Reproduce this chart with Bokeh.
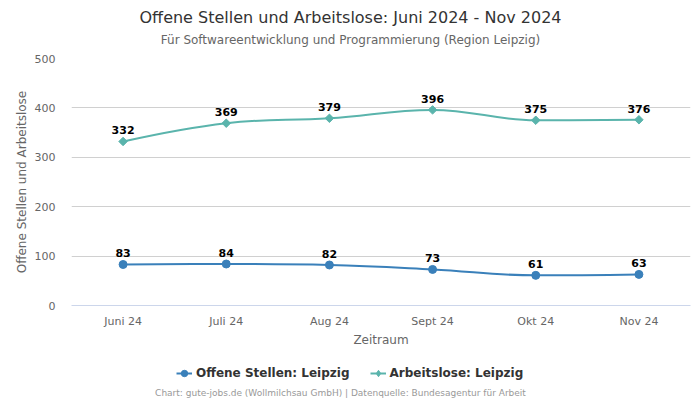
import math
from bokeh.plotting import figure
from bokeh.layouts import column
from bokeh.models import (ColumnDataSource, Legend, LegendItem, Label,
                          FixedTicker, Range1d)
from bokeh.embed import file_html
from bokeh.resources import INLINE
from bokeh.core.properties import value

months = ["Juni 24", "Juli 24", "Aug 24", "Sept 24", "Okt 24", "Nov 24"]
offene = [83, 84, 82, 73, 61, 63]
arbeitslose = [332, 369, 379, 396, 375, 376]
y_ticks = [0, 100, 200, 300, 400, 500]

title_text = "Offene Stellen und Arbeitslose: Juni 2024 - Nov 2024"
subtitle_text = "Für Softwareentwicklung und Programmierung (Region Leipzig)"
footer_text = "Chart: gute-jobs.de (Wollmilchsau GmbH) | Datenquelle: Bundesagentur für Arbeit"
name_offene = "Offene Stellen: Leipzig"
name_arbeitslose = "Arbeitslose: Leipzig"

BLUE = "#3a80ba"
TEAL = "#5ab4ac"
FONT = "DejaVu Sans"

xs = [i + 0.5 for i in range(len(months))]


def spline_segments(x, y, smoothing=1.5):
    """Highcharts-style spline control points -> bezier segments."""
    n = len(x)
    left = [None] * n
    right = [None] * n
    for i in range(n):
        if i == 0 or i == n - 1:
            left[i] = (x[i], y[i])
            right[i] = (x[i], y[i])
            continue
        lx, ly = x[i - 1], y[i - 1]
        nx, ny = x[i + 1], y[i + 1]
        px, py = x[i], y[i]
        d = smoothing + 1
        lcx = (smoothing * px + lx) / d
        lcy = (smoothing * py + ly) / d
        rcx = (smoothing * px + nx) / d
        rcy = (smoothing * py + ny) / d
        corr = ((rcy - lcy) * (rcx - px)) / (rcx - lcx) + py - rcy
        lcy += corr
        rcy += corr
        if lcy > ly and lcy > py:
            lcy = max(ly, py)
            rcy = 2 * py - lcy
        elif lcy < ly and lcy < py:
            lcy = min(ly, py)
            rcy = 2 * py - lcy
        if rcy > ny and rcy > py:
            rcy = max(ny, py)
            lcy = 2 * py - rcy
        elif rcy < ny and rcy < py:
            rcy = min(ny, py)
            lcy = 2 * py - rcy
        left[i] = (lcx, lcy)
        right[i] = (rcx, rcy)
    seg = dict(x0=[], y0=[], x1=[], y1=[], cx0=[], cy0=[], cx1=[], cy1=[])
    for i in range(1, n):
        seg["x0"].append(x[i - 1]); seg["y0"].append(y[i - 1])
        seg["x1"].append(x[i]); seg["y1"].append(y[i])
        seg["cx0"].append(right[i - 1][0]); seg["cy0"].append(right[i - 1][1])
        seg["cx1"].append(left[i][0]); seg["cy1"].append(left[i][1])
    return ColumnDataSource(seg)


def strip(height):
    f = figure(frame_width=619, frame_height=height,
               x_range=Range1d(0, 1), y_range=Range1d(0, 1),
               output_backend="svg", toolbar_location=None, title=None,
               x_axis_location=None, y_axis_location=None,
               min_border_left=71, min_border_right=10,
               min_border_top=0, min_border_bottom=0)
    f.outline_line_color = None
    f.xgrid.grid_line_color = None
    f.ygrid.grid_line_color = None
    f.border_fill_color = "white"
    f.background_fill_color = "white"
    return f


FRAME_LEFT = 71


def add_label(fig, txt, cx, cy_from_bottom, size, color, style="normal"):
    fig.add_layout(Label(x=cx - FRAME_LEFT, y=cy_from_bottom, x_units="screen",
                         y_units="screen", text=txt, text_align="center",
                         text_baseline="middle", text_font=FONT,
                         text_font_size=size, text_color=color,
                         text_font_style=style))


# ---- top strip: title + subtitle
top = strip(50)
add_label(top, title_text, 350, 50 - 17, "16px", "#333333")
add_label(top, subtitle_text, 350, 50 - 39, "12px", "#666666")

# ---- main chart
p = figure(frame_width=619, frame_height=247,
           x_range=Range1d(0, 6), y_range=Range1d(0, 500),
           output_backend="svg", toolbar_location=None, title=None,
           min_border_left=71, min_border_right=10, min_border_top=8,
           min_border_bottom=55)
p.outline_line_color = None
p.background_fill_color = "white"
p.border_fill_color = "white"

p.xaxis.ticker = FixedTicker(ticks=xs)
p.xaxis.major_label_overrides = {x: m for x, m in zip(xs, months)}
p.xaxis.axis_line_color = "#ccd6eb"
p.xaxis.major_tick_line_color = None
p.xaxis.minor_tick_line_color = None
p.xaxis.major_tick_out = 0
p.xaxis.major_label_standoff = 9
p.xaxis.major_label_text_font = FONT
p.xaxis.major_label_text_font_size = "11px"
p.xaxis.major_label_text_color = "#666666"
p.xaxis.axis_label = "Zeitraum"
p.xaxis.axis_label_text_font = FONT
p.xaxis.axis_label_text_font_size = "12px"
p.xaxis.axis_label_text_font_style = "normal"
p.xaxis.axis_label_text_color = "#666666"
p.xaxis.axis_label_standoff = 2

p.yaxis.ticker = FixedTicker(ticks=y_ticks)
p.yaxis.axis_line_color = None
p.yaxis.major_tick_line_color = None
p.yaxis.minor_tick_line_color = None
p.yaxis.major_tick_out = 0
p.yaxis.major_label_standoff = 16
p.yaxis.major_label_text_font = FONT
p.yaxis.major_label_text_font_size = "11px"
p.yaxis.major_label_text_color = "#666666"
p.yaxis.axis_label = "Offene Stellen und Arbeitslose"
p.yaxis.axis_label_text_font = FONT
p.yaxis.axis_label_text_font_size = "12px"
p.yaxis.axis_label_text_font_style = "normal"
p.yaxis.axis_label_text_color = "#666666"
p.yaxis.axis_label_standoff = 3

p.xgrid.grid_line_color = None
p.ygrid.ticker = FixedTicker(ticks=y_ticks[1:])
p.ygrid.grid_line_color = "#d0d0d0"
p.ygrid.grid_line_width = 1

src_a = ColumnDataSource(dict(x=xs, y=arbeitslose, lab=[str(v) for v in arbeitslose]))
src_o = ColumnDataSource(dict(x=xs, y=offene, lab=[str(v) for v in offene]))

p.bezier(x0="x0", y0="y0", x1="x1", y1="y1", cx0="cx0", cy0="cy0",
         cx1="cx1", cy1="cy1", source=spline_segments(xs, arbeitslose),
         line_color=TEAL, line_width=2)
p.bezier(x0="x0", y0="y0", x1="x1", y1="y1", cx0="cx0", cy0="cy0",
         cx1="cx1", cy1="cy1", source=spline_segments(xs, offene),
         line_color=BLUE, line_width=2)
p.scatter("x", "y", source=src_a, marker="square", size=6,
          angle=math.pi / 4, fill_color=TEAL, line_color=TEAL)
p.scatter("x", "y", source=src_o, marker="circle", size=8,
          fill_color=BLUE, line_color=BLUE)

for src in (src_a, src_o):
    p.text("x", "y", text="lab", source=src, text_align="center",
           text_baseline="bottom", y_offset=-7, text_font=value(FONT),
           text_font_size="11px", text_font_style="bold", text_color="#000000")

# ---- bottom strip: legend + source note
bot = strip(40)
# legend sample glyphs use the series' own data, which lies outside this strip's view
lsrc_o = ColumnDataSource(dict(x=xs, y=offene))
lsrc_a = ColumnDataSource(dict(x=xs, y=arbeitslose))
ql_o = bot.line("x", "y", source=lsrc_o, line_color=BLUE, line_width=2)
qs_o = bot.scatter("x", "y", source=lsrc_o, marker="circle", size=8,
                   fill_color=BLUE, line_color=BLUE)
ql_a = bot.line("x", "y", source=lsrc_a, line_color=TEAL, line_width=2)
qs_a = bot.scatter("x", "y", source=lsrc_a, marker="diamond", size=9,
                   fill_color=TEAL, line_color=TEAL)

legend = Legend(items=[LegendItem(label=name_offene, renderers=[ql_o, qs_o]),
                       LegendItem(label=name_arbeitslose, renderers=[ql_a, qs_a])],
                orientation="horizontal", location=(176 - FRAME_LEFT, 19),
                padding=0, margin=0, spacing=20, glyph_width=16, glyph_height=16,
                label_height=16, label_standoff=4,
                label_text_font=FONT, label_text_font_size="12px",
                label_text_font_style="bold", label_text_color="#333333",
                border_line_color=None, background_fill_alpha=0)
bot.add_layout(legend, "center")
add_label(bot, footer_text, 340, 40 - 32, "9px", "#999999")

layout = column(top, p, bot, spacing=0)
open("out.html", "w").write(file_html(layout, INLINE))
